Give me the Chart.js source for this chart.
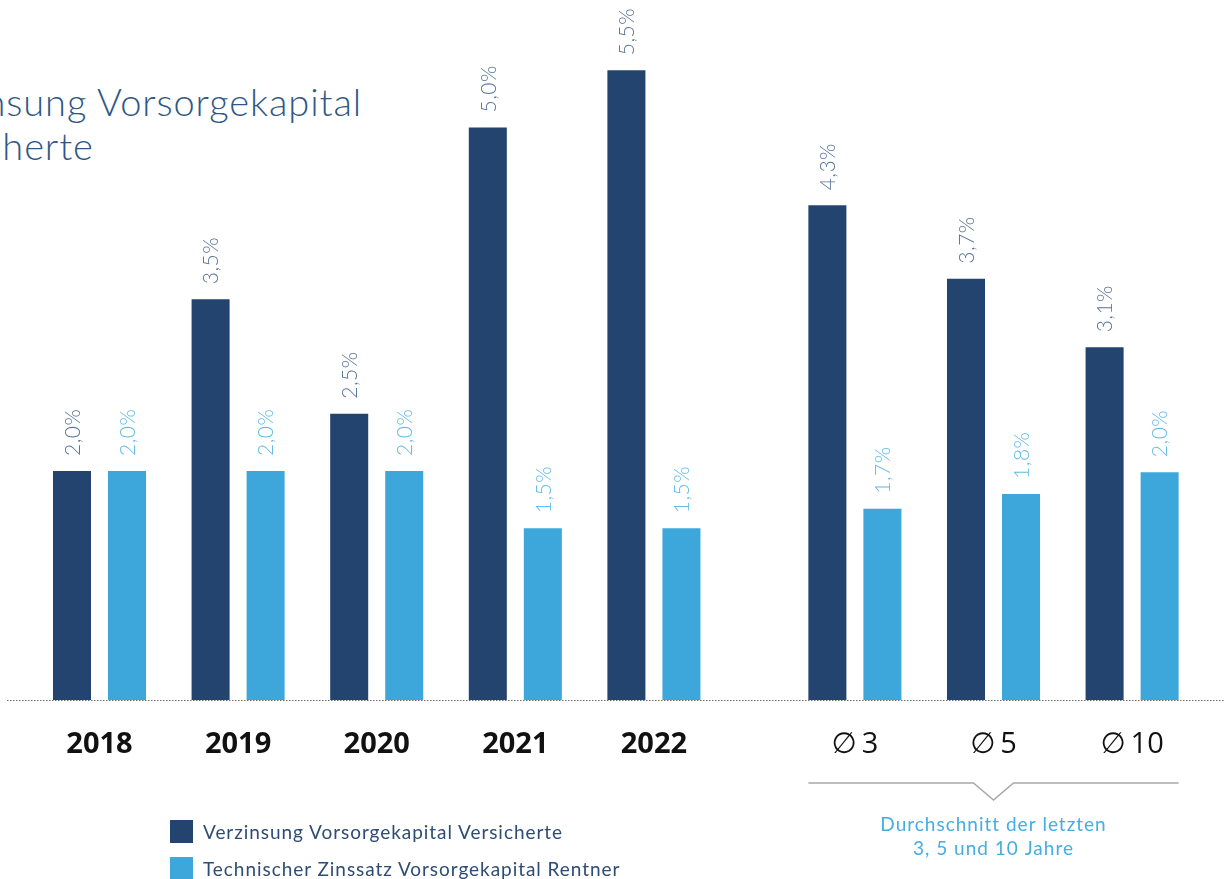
<!DOCTYPE html>
<html lang="de">
<head>
<meta charset="utf-8">
<title>Verzinsung Vorsorgekapital Versicherte</title>
<script src="https://cdn.jsdelivr.net/npm/chart.js@4.4.1/dist/chart.umd.min.js"></script>
<style>
    html, body { margin: 0; padding: 0; background: #fff; }
    body { width: 1224px; height: 879px; position: relative; overflow: hidden; font-family: Lato, "Open Sans", sans-serif; }
    #titel {
        position: absolute; right: 862px; top: 79px;
        font-size: 38px; font-weight: 300; line-height: 44px; letter-spacing: 0.9px;
        color: #2f5886; white-space: nowrap;
    }
    #chart { position: absolute; left: 0; top: 0; }
    #legende { position: absolute; left: 170px; top: 820px; }
    .leg-item { display: flex; align-items: center; height: 23px; margin-bottom: 14px; font-size: 19px; letter-spacing: 0.95px; color: #2d4d75; }
    .leg-box { width: 23px; height: 23px; margin-right: 10px; }
</style>
</head>
<body>
<div id="titel">Verzinsung Vorsorgekapital<br>Versicherte</div>
<canvas id="chart" width="1224" height="879"></canvas>
<div id="legende"></div>

<script>
// Kategorien und Positionen auf der x-Achse (Lücke vor den Durchschnitten)
const kategorien = ['2018', '2019', '2020', '2021', '2022', '\u2205\u20093', '\u2205\u20095', '\u2205\u200910'];
const positionen = [0, 1, 2, 3, 4, 5.45, 6.45, 7.45];

// Werte in %
const verzinsung = [2.0, 3.5, 2.5, 5.0, 5.5, 4.32, 3.68, 3.08];
const technischerZins = [2.0, 2.0, 2.0, 1.5, 1.5, 1.67, 1.8, 1.99];

const serienNamen = ['Verzinsung Vorsorgekapital Versicherte', 'Technischer Zinssatz Vorsorgekapital Rentner'];
const farbeDunkel = '#23446e';
const farbeHell = '#3da7db';

const formatProzent = (v) => v.toFixed(1).replace('.', ',') + '%';

// gepunktete Nulllinie
const nulllinie = {
    id: 'nulllinie',
    beforeDatasetsDraw(chart) {
        const ctx = chart.ctx;
        const y = Math.round(chart.scales.y.getPixelForValue(0)) + 0.5;
        ctx.save();
        ctx.strokeStyle = '#6a6a6a';
        ctx.lineWidth = 1.2;
        ctx.setLineDash([1.5, 1.5]);
        ctx.beginPath();
        ctx.moveTo(chart.chartArea.left, y);
        ctx.lineTo(chart.chartArea.right, y);
        ctx.stroke();
        ctx.restore();
    }
};

// Wertebeschriftungen senkrecht über den Balken
const wertePlugin = {
    id: 'werte',
    afterDatasetsDraw(chart) {
        const ctx = chart.ctx;
        const labelFarben = ['#57739a', '#62bbe8'];
        chart.data.datasets.forEach((ds, di) => {
            const meta = chart.getDatasetMeta(di);
            meta.data.forEach((bar, i) => {
                ctx.save();
                ctx.translate(bar.x, bar.y - 15);
                ctx.rotate(-Math.PI / 2);
                ctx.font = '300 21px Lato, "Open Sans", sans-serif';
                ctx.letterSpacing = '0.5px';
                ctx.fillStyle = labelFarben[di];
                ctx.textAlign = 'left';
                ctx.textBaseline = 'middle';
                ctx.fillText(formatProzent(ds.data[i].y), 0, 1);
                ctx.restore();
            });
        });
    }
};

// Klammer unter den Durchschnittswerten
const klammerPlugin = {
    id: 'klammer',
    afterDraw(chart) {
        const ctx = chart.ctx;
        const m0 = chart.getDatasetMeta(0);
        const m1 = chart.getDatasetMeta(1);
        const x1 = m0.data[5].x - m0.data[5].width / 2;
        const x2 = m1.data[7].x + m1.data[7].width / 2;
        const mitte = chart.scales.x.getPixelForValue(positionen[6]);
        const y = 783;
        ctx.save();
        ctx.strokeStyle = '#a8a8a8';
        ctx.lineWidth = 1.5;
        ctx.beginPath();
        ctx.moveTo(x1, y);
        ctx.lineTo(mitte - 20, y);
        ctx.lineTo(mitte, y + 17);
        ctx.lineTo(mitte + 20, y);
        ctx.lineTo(x2, y);
        ctx.stroke();
        ctx.font = '19px Lato, "Open Sans", sans-serif';
        ctx.letterSpacing = '1px';
        ctx.fillStyle = '#45ade2';
        ctx.textAlign = 'center';
        ctx.textBaseline = 'middle';
        ctx.fillText('Durchschnitt der letzten', mitte, 825);
        ctx.fillText('3, 5 und 10 Jahre', mitte, 849);
        ctx.restore();
    }
};

const chart = new Chart(document.getElementById('chart'), {
    type: 'bar',
    data: {
        datasets: [
            {
                label: serienNamen[0],
                data: positionen.map((x, i) => ({ x: x, y: verzinsung[i] })),
                backgroundColor: farbeDunkel
            },
            {
                label: serienNamen[1],
                data: positionen.map((x, i) => ({ x: x, y: technischerZins[i] })),
                backgroundColor: farbeHell
            }
        ]
    },
    options: {
        responsive: false,
        animation: false,
        categoryPercentage: 0.794,
        barPercentage: 0.691,
        layout: { padding: { left: 7, right: 0, top: 13, bottom: 0 } },
        scales: {
            x: {
                type: 'linear',
                offset: false,
                min: -0.6674,
                max: 8.113,
                grid: { display: false, drawTicks: false, offset: false },
                border: { display: false },
                afterBuildTicks: (axis) => {
                    axis.ticks = positionen.map(v => ({ value: v }));
                },
                afterFit: (axis) => { axis.height = 179; },
                ticks: {
                    autoSkip: false,
                    maxRotation: 0,
                    padding: 27,
                    color: '#111',
                    font: (c) => c.index >= 5
                        ? { family: '"Open Sans", "DejaVu Sans", sans-serif', size: 29, weight: 'normal' }
                        : { family: '"Open Sans", sans-serif', size: 29, weight: 'bold' },
                    callback: (value, index) => kategorien[index]
                }
            },
            y: {
                display: false,
                min: 0,
                max: 6
            }
        },
        plugins: {
            legend: { display: false },
            tooltip: { enabled: false }
        }
    },
    plugins: [nulllinie, wertePlugin, klammerPlugin]
});

// HTML-Legende aus den Datensätzen
const legende = document.getElementById('legende');
chart.data.datasets.forEach(ds => {
    const item = document.createElement('div');
    item.className = 'leg-item';
    item.innerHTML = `<span class="leg-box" style="background:${ds.backgroundColor}"></span>${ds.label}`;
    legende.appendChild(item);
});
</script>
</body>
</html>
